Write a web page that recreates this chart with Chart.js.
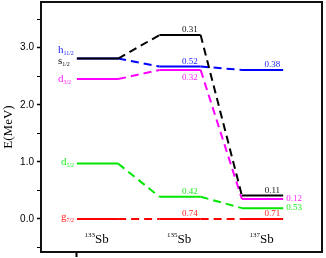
<!DOCTYPE html>
<html lang="en">
<head>
<meta charset="UTF-8" />
<title>Sb single-particle levels</title>
<script src="https://cdn.jsdelivr.net/npm/chart.js"></script>
<style>
  html, body { margin: 0; padding: 0; background: #fff; }
</style>
</head>
<body>
<canvas id="levelChart" width="326" height="258"></canvas>
<script>
// isotopes (mass numbers) and orbitals
const massNumbers = ["133", "135", "137"];
const elementSymbol = "Sb";
const orbitalLetters = ["g", "d", "d", "s", "h"];
const orbitalSubs = ["7/2", "5/2", "3/2", "1/2", "11/2"];

// level energies in MeV, one value per isotope
const energyG72 = [0.0, 0.0, 0.0];
const energyD52 = [0.97, 0.39, 0.19];
const energyD32 = [2.45, 2.61, 0.35];
const energyS12 = [2.81, 3.22, 0.41];
const energyH112 = [2.81, 2.67, 2.61];

// numbers written next to the levels
const strengthG72 = ["", "0.74", "0.71"];
const strengthD52 = ["", "0.42", "0.53"];
const strengthD32 = ["", "0.32", "0.12"];
const strengthS12 = ["", "0.31", "0.11"];
const strengthH112 = ["", "0.52", "0.38"];

const yTicks = [-0.5, 0, 0.5, 1, 1.5, 2, 2.5, 3, 3.5];

const energies = [energyG72, energyD52, energyD32, energyS12, energyH112];
const strengths = [strengthG72, strengthD52, strengthD32, strengthS12, strengthH112];
const colors = ["#ff0000", "#00e600", "#ff00ff", "#000000", "#0000ff"];
const textColors = ["#ff2222", "#22ee22", "#ff22ff", "#111111", "#2222ff"];
// where the number goes: a = above, b = below, r = right of the level
const placement = [
  ["", "a", "a"],
  ["", "a", "r"],
  ["", "b", "r"],
  ["", "a", "a"],
  ["", "a", "a"],
];
const labelDx = [-16, -16, -19, -19, -19];
const labelDy = [1, 1.5, 3, 5, -6];
const half = 0.25;

function levelPoints(values) {
  const pts = [];
  values.forEach((e, i) => {
    pts.push({ x: i - half, y: e });
    pts.push({ x: i + half, y: e });
  });
  return pts;
}

// draw order: first dataset ends up on top
const drawOrder = [3, 2, 4, 1, 0];
const datasets = drawOrder.map((k) => ({
  label: orbitalLetters[k] + orbitalSubs[k],
  data: levelPoints(energies[k]),
  borderColor: colors[k],
  borderWidth: 2,
  pointRadius: 0,
  borderCapStyle: "butt",
  segment: {
    borderDash: (ctx) => (ctx.p0DataIndex % 2 === 1 ? [8, 5] : []),
  },
}));

const textPlugin = {
  id: "levelText",
  afterDatasetsDraw(chart) {
    const ctx = chart.ctx;
    const x = chart.scales.x;
    const y = chart.scales.y;
    ctx.save();
    ctx.textBaseline = "alphabetic";

    // orbital names at the first isotope
    energies.forEach((vals, k) => {
      const px = x.getPixelForValue(-half) + labelDx[k];
      const py = y.getPixelForValue(vals[0]) + labelDy[k];
      ctx.fillStyle = textColors[k];
      ctx.textAlign = "left";
      ctx.font = '11px "Liberation Serif"';
      ctx.fillText(orbitalLetters[k], px, py);
      const w = ctx.measureText(orbitalLetters[k]).width;
      ctx.font = '6px "Liberation Serif"';
      ctx.fillText(orbitalSubs[k], px + w, py + 2);
    });

    // numbers by the levels
    ctx.font = '9px "Liberation Serif"';
    strengths.forEach((vals, k) => {
      vals.forEach((s, i) => {
        if (!s) return;
        const ly = y.getPixelForValue(energies[k][i]);
        ctx.fillStyle = textColors[k];
        const where = placement[k][i];
        if (where === "r") {
          ctx.textAlign = "left";
          ctx.fillText(s, x.getPixelForValue(i + half) + 3, ly + 1.5);
        } else {
          ctx.textAlign = "center";
          const cx = x.getPixelForValue(i + 0.12);
          ctx.fillText(s, cx, where === "b" ? ly + 10 : ly - 3);
        }
      });
    });

    // isotope names
    const base = y.getPixelForValue(y.min) - 9;
    ctx.fillStyle = "#000";
    ctx.textAlign = "left";
    massNumbers.forEach((a, i) => {
      ctx.font = '7px "Liberation Serif"';
      const wa = ctx.measureText(a).width;
      ctx.font = '13px "Liberation Serif"';
      const ws = ctx.measureText(elementSymbol).width;
      const left = x.getPixelForValue(i) - (wa + ws) / 2 - 1;
      ctx.fillText(elementSymbol, left + wa, base);
      ctx.font = '7px "Liberation Serif"';
      ctx.fillText(a, left, base - 6.5);
    });
    ctx.restore();
  },
  afterDraw(chart) {
    const { left, top, right, bottom } = chart.chartArea;
    const ctx = chart.ctx;
    ctx.save();
    ctx.strokeStyle = "#111";
    ctx.lineWidth = 2;
    ctx.strokeRect(left, top, right - left, bottom - top);
    ctx.restore();
  },
};

new Chart(document.getElementById("levelChart"), {
  type: "line",
  data: { datasets: datasets },
  options: {
    responsive: false,
    animation: false,
    layout: { padding: { left: 1, top: 2, right: 4, bottom: 0 } },
    plugins: { legend: { display: false }, tooltip: { enabled: false } },
    scales: {
      x: {
        type: "linear",
        min: -0.685,
        max: 2.721,
        afterBuildTicks: (scale) => {
          scale.ticks = [{ value: -half }];
        },
        afterFit: (scale) => {
          scale.height = 6;
          scale.paddingLeft = 0;
          scale.paddingRight = 0;
        },
        ticks: { callback: () => "" },
        grid: {
          drawOnChartArea: false,
          tickLength: 5,
          tickWidth: 2,
          tickColor: "#000",
        },
        border: { display: true, width: 2, color: "#111" },
      },
      y: {
        min: -0.578,
        max: 3.8,
        afterBuildTicks: (scale) => {
          scale.ticks = yTicks.map((v) => ({ value: v }));
        },
        afterFit: (scale) => {
          scale.width = 40;
          scale.paddingTop = 0;
          scale.paddingBottom = 0;
        },
        ticks: {
          callback: (v) => (Number.isInteger(v) ? v.toFixed(1) : ""),
          font: { family: "Liberation Sans", size: 10 },
          color: "#000",
          padding: 3,
        },
        grid: {
          drawOnChartArea: false,
          tickLength: 4,
          tickWidth: (c) => (Number.isInteger(c.tick.value) ? 1.5 : 1),
          tickColor: "#000",
        },
        border: { display: true, width: 2, color: "#111" },
        title: {
          display: true,
          text: "E(MeV)",
          font: { family: "Liberation Serif", size: 13 },
          color: "#000",
          padding: 0,
        },
      },
    },
  },
  plugins: [textPlugin],
});
</script>
</body>
</html>
